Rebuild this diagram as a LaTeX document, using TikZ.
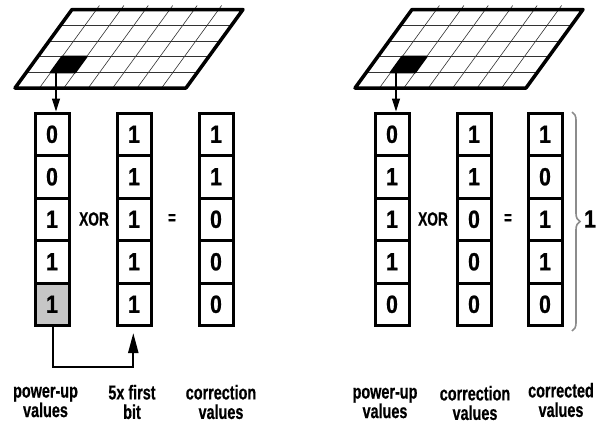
\documentclass[tikz,border=0pt]{standalone}
\usepackage{fontspec}
\setmainfont{Liberation Sans}
\newfontfamily\nsans[FakeStretch=0.72,FakeBold=0.6]{Liberation Sans}
\newfontfamily\dsans[FakeStretch=0.85,FakeBold=0.6]{Liberation Sans}
\usetikzlibrary{arrows.meta,decorations.pathreplacing,calc}
\newcommand\chipgrid[2]{%
  \begin{scope}[shift={(#1,0)}]
    \fill[white] (72,9.5) -- (243,9.5) -- (186,88) -- (15,88) -- cycle;
    \foreach \i in {1,...,6}
      \draw[gridline] (15+\i*24.43,88) -- (75+\i*24.43,5.5);
    \foreach \k in {1,...,4}
      \draw[gridline] (72-\k*11.4,9.5+\k*15.7) -- (243-\k*11.4,9.5+\k*15.7);
    \fill[black,draw=black,line width=2pt,line join=round]
      (62.2,56.6) -- (86.6,56.6) -- (75.2,72.3) -- (50.8,72.3) -- cycle;
    \coordinate (#2) at (56,70);
    \draw[line width=3.5pt,line join=round] (72,9.5) -- (243,9.5) -- (186,88) -- (15,88) -- cycle;
  \end{scope}}
\begin{document}
\begin{tikzpicture}[x=1pt,y=-1pt,
  gridline/.style={line width=0.6pt,black!80},
  bit/.style={draw,line width=3pt,minimum width=34pt,minimum height=42.5pt,inner sep=0pt,
    font=\dsans\bfseries\fontsize{25}{25}\selectfont},
  op/.style={font=\nsans\bfseries\fontsize{19}{19}\selectfont},
  lbl/.style={align=center,font=\nsans\bfseries\fontsize{20}{19.5}\selectfont},
  thinarrow/.style={line width=1.2pt,-{Triangle[length=13pt,width=8pt]}},
  thickarrow/.style={line width=2.2pt,-{Triangle[length=20pt,width=10pt]}}]
\useasboundingbox (0,0) rectangle (597,426);
\chipgrid{0}{cellL}
\chipgrid{340}{cellR}
% columns
\foreach \name/\x/\vals in {L1/52/{0,0,1,1,1}, L2/134/{1,1,1,1,1}, L3/216/{1,1,0,0,0},
                           R1/392/{0,1,1,1,0}, R2/474/{1,1,0,0,0}, R3/545/{1,0,1,1,0}} {
  \foreach \v [count=\r] in \vals
    \node[bit] (\name-\r) at (\x,134.25+42.5*\r-42.5) {\v};
}
\fill[gray!45] (L1-5.south west) rectangle (L1-5.north east);
\node[bit] (L1-5b) at (L1-5) {1};
% operators
\node[op] (xorL) at (94,219) {XOR};
\node[op] (eqL) at (172,219) {=};
\node[op] (xorR) at (433,219) {XOR};
\node[op] (eqR) at (508,219) {=};
% arrows
\draw[thinarrow] (cellL) -- (cellL |- L1-1.north);
\draw[thinarrow] (cellR) -- (cellR |- R1-1.north);
\coordinate (turnL) at ($(L1-5.south)+(1,40)$);
\draw[thickarrow,shorten >=6pt] (L1-5.south -| turnL) -- (turnL) -| ($(L2-5.south)+(-0.7,0)$);
% brace
\draw[decorate,decoration={brace,amplitude=8pt},line width=1.6pt,black!45] (572,112) -- (572,331);
\node[font=\dsans\bfseries\fontsize{25}{25}\selectfont] (one) at (590,219) {1};
% labels
\node[lbl] (lab1) at (45.5,402) {power-up\\values};
\node[lbl] (lab2) at (132,402) {5x first\\bit};
\node[lbl] (lab3) at (221,402) {correction\\values};
\node[lbl] (lab4) at (385,403) {power-up\\values};
\node[lbl] (lab5) at (475,403) {correction\\values};
\node[lbl] (lab6) at (561,400) {corrected\\values};
\end{tikzpicture}
\end{document}
